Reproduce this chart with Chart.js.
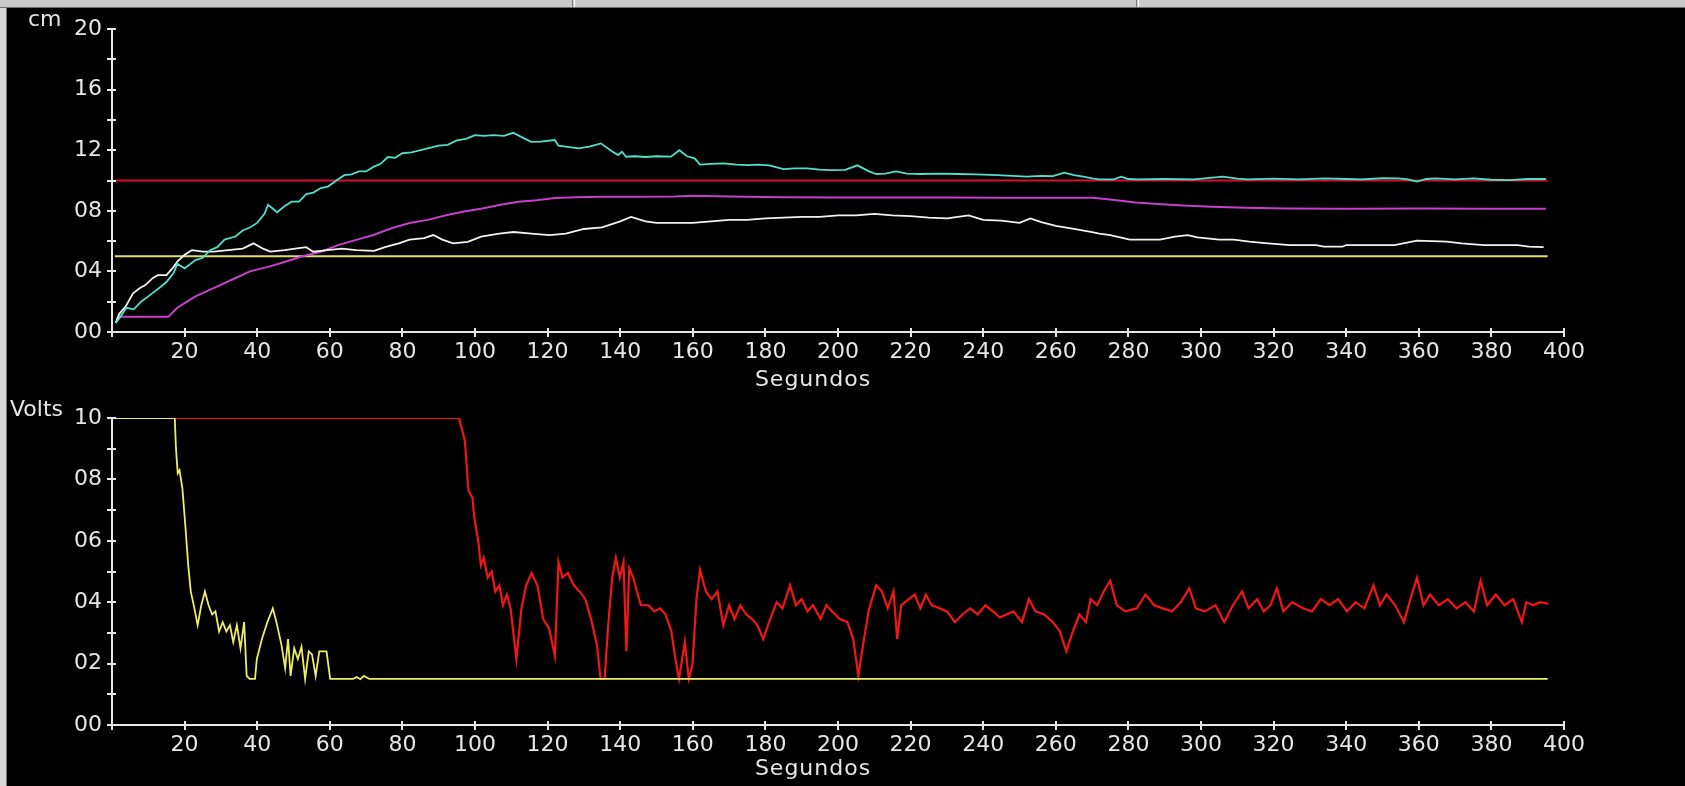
<!DOCTYPE html>
<html lang="pt-BR">
<head>
<meta charset="UTF-8">
<title>Níveis e tensões</title>
<script src="https://cdn.jsdelivr.net/npm/chart.js"></script>
<style>
    body { margin: 0; background: #000; width: 1685px; height: 786px; overflow: hidden; position: relative; font-family: "DejaVu Sans", sans-serif; }
    canvas { position: absolute; left: 0; }
    #grafNivel { top: 0; }
    #grafTensao { top: 390px; }
    .barra { position: absolute; left: 0; top: 0; width: 1685px; height: 7px; background: #c9c9c9; border-bottom: 1px solid #6e6e6e; z-index: 2; }
    .sep { position: absolute; top: 0; width: 1px; height: 7px; border-left: 1px solid #7a7a7a; border-right: 1px solid #fff; }
    .borda { position: absolute; left: 0; top: 8px; width: 6px; height: 778px; background: #d9d9d9; border-right: 1px solid #777; z-index: 2; }
    .rotulo { position: absolute; color: #e6e6e6; font-size: 22px; line-height: 22px; white-space: nowrap; }
    .segundos { transform: translateX(-50%); letter-spacing: 1px; }
</style>
</head>
<body>
<div class="barra"><div class="sep" style="left:572px"></div><div class="sep" style="left:1136px"></div></div>
<div class="borda"></div>

<canvas id="grafNivel" width="1685" height="390"></canvas>
<canvas id="grafTensao" width="1685" height="396"></canvas>

<div class="rotulo" style="left:28px; top:8px">cm</div>
<div class="rotulo segundos" style="left:813px; top:368px">Segundos</div>
<div class="rotulo" style="left:10px; top:398px">Volts</div>
<div class="rotulo segundos" style="left:813px; top:757px">Segundos</div>

<script>
// tempo (s) nas marcas do eixo horizontal
const marcasTempo = [20, 40, 60, 80, 100, 120, 140, 160, 180, 200, 220, 240, 260, 280, 300, 320, 340, 360, 380, 400];
const rotulosNivel = ['00', '04', '08', '12', '16', '20'];
const rotulosTensao = ['00', '02', '04', '06', '08', '10'];

// referências de nível (cm)
const referenciaAlta = [[0.8, 10], [395.5, 10]];
const referenciaBaixa = [[0.8, 5], [395.5, 5]];

// nível tanque 1 (cm) - [tempo, valor]
const nivel1 = [
    [1, 0.6], [2, 0.9], [4, 1.6], [6, 1.5], [8, 2.0], [10, 2.35], [13, 2.9], [15, 3.3], [17, 3.9], [18, 4.5],
    [20, 4.2], [23, 4.75], [25, 4.9], [27, 5.4], [29, 5.6], [31, 6.1], [34, 6.3], [36, 6.7], [38, 6.9], [40, 7.2],
    [42, 7.8], [43, 8.4], [45.5, 7.9], [47.5, 8.3], [49.5, 8.6], [51.5, 8.6], [53.5, 9.1], [55.5, 9.2], [57.5, 9.5], [59.5, 9.6],
    [61.5, 9.95], [64, 10.35], [66, 10.4], [68, 10.6], [70, 10.6], [72, 10.9], [74, 11.1], [76, 11.55], [78, 11.5], [80, 11.8],
    [82.5, 11.85], [85, 12.0], [87.5, 12.15], [90, 12.3], [92.5, 12.35], [95, 12.65], [97.5, 12.75], [100, 13.0], [102.5, 12.95], [105, 13.0],
    [108, 12.95], [110.5, 13.15], [113, 12.85], [115.5, 12.55], [118, 12.56], [122, 12.67], [123, 12.3], [126, 12.2], [128.5, 12.12], [131.5, 12.23],
    [134.7, 12.45], [137.3, 12.0], [139.4, 11.68], [140.5, 11.9], [141.6, 11.57], [144, 11.6], [147, 11.55], [150, 11.6], [154, 11.57], [156.3, 12.0],
    [158.4, 11.6], [160.5, 11.46], [162, 11.05], [165, 11.1], [168.5, 11.13], [172, 11.05], [175, 11.02], [178, 11.05], [181, 11.0], [185, 10.75],
    [188, 10.8], [191.5, 10.8], [195, 10.72], [198, 10.69], [202, 10.7], [205.4, 11.0], [208.5, 10.6], [210.6, 10.43], [213, 10.45], [216, 10.6],
    [219, 10.45], [223, 10.43], [228, 10.45], [233, 10.43], [238, 10.4], [244, 10.36], [248, 10.3], [252, 10.25], [256, 10.3], [259, 10.28],
    [262.3, 10.52], [265, 10.35], [267.6, 10.25], [270, 10.14], [272, 10.08], [276, 10.07], [278, 10.25], [280, 10.1], [282.4, 10.08], [290, 10.1],
    [298, 10.08], [306, 10.25], [310, 10.12], [313, 10.08], [320, 10.12], [327, 10.08], [334, 10.14], [340, 10.1], [344, 10.08], [350, 10.15],
    [354.4, 10.14], [357, 10.08], [359.5, 9.93], [362, 10.1], [364.6, 10.14], [370, 10.08], [375, 10.14], [380, 10.05], [385, 10.03], [390, 10.1],
    [395, 10.1]
];

// nível tanque 2 (cm)
const nivel2 = [
    [1, 0.6], [2, 1.0], [15.5, 1.0], [18, 1.6], [20, 1.9], [23, 2.35], [28, 2.9], [33, 3.45], [38, 4.0], [43, 4.3],
    [48, 4.65], [52.5, 5.0], [57.5, 5.3], [62.5, 5.75], [67.5, 6.1], [72, 6.4], [77, 6.85], [82, 7.2], [87, 7.4], [92, 7.7],
    [97, 7.95], [102, 8.15], [107, 8.4], [112, 8.6], [117, 8.7], [122, 8.85], [128, 8.9], [135, 8.92], [145, 8.92], [155, 8.95],
    [160, 9.0], [170, 8.95], [185, 8.9], [200, 8.88], [215, 8.88], [230, 8.87], [245, 8.86], [260, 8.86], [270, 8.86], [275, 8.75],
    [282, 8.55], [288, 8.45], [295, 8.35], [303, 8.27], [312, 8.2], [324, 8.16], [340, 8.14], [360, 8.15], [380, 8.13], [395, 8.14]
];

// nível tanque 3 (cm)
const nivel3 = [
    [1, 0.6], [2, 1.2], [3.8, 1.7], [5.8, 2.55], [7.7, 2.9], [9.2, 3.1], [11.2, 3.55], [12.6, 3.75], [15, 3.75], [17, 4.3],
    [18, 4.65], [20, 5.1], [22, 5.4], [25, 5.3], [28, 5.3], [32, 5.4], [36, 5.5], [39, 5.85], [41.6, 5.5], [43.6, 5.3],
    [47.6, 5.4], [50.5, 5.5], [53.5, 5.6], [55.4, 5.3], [59.4, 5.4], [63.3, 5.5], [67.3, 5.4], [72.2, 5.35], [75.2, 5.6], [79, 5.85],
    [82, 6.1], [86, 6.2], [88.5, 6.4], [91, 6.1], [94, 5.85], [98, 5.95], [101.7, 6.3], [106.7, 6.5], [110.6, 6.6], [115.5, 6.5],
    [120.5, 6.4], [125, 6.5], [130, 6.8], [135, 6.9], [140, 7.3], [143, 7.6], [147, 7.3], [150, 7.2], [155, 7.2], [160, 7.2],
    [165, 7.3], [170, 7.4], [175, 7.4], [180, 7.5], [185, 7.55], [190, 7.6], [195, 7.6], [200, 7.7], [205, 7.7], [210, 7.8],
    [215, 7.7], [220, 7.65], [225, 7.55], [230, 7.5], [236, 7.7], [240, 7.4], [245, 7.35], [250, 7.2], [253, 7.5], [256, 7.25],
    [260, 7.0], [265, 6.8], [270, 6.6], [272, 6.5], [275, 6.4], [280.4, 6.1], [288.7, 6.1], [292.8, 6.3], [296.4, 6.4], [299, 6.25],
    [305, 6.1], [309, 6.1], [313.3, 5.96], [318.4, 5.85], [324.5, 5.74], [331.7, 5.74], [333.8, 5.63], [339, 5.63], [340, 5.74], [353.3, 5.74],
    [359.5, 6.03], [367.7, 5.96], [371.8, 5.85], [378, 5.74], [387.2, 5.74], [390.3, 5.63], [394.4, 5.6]
];

// tensão da bomba 1 (V)
const tensaoBomba1 = [
    [0.8, 10], [95.6, 10], [97.2, 9.27], [98.2, 7.63], [99.3, 7.4], [99.8, 6.75], [100.9, 6.0], [101.6, 5.2], [102.4, 5.45], [103.5, 4.8],
    [104.6, 5.0], [105.6, 4.35], [106.7, 4.55], [107.7, 3.9], [108.8, 4.25], [109.8, 3.8], [111.4, 2.15], [112.8, 3.8], [114.1, 4.55], [115.6, 4.95],
    [117.2, 4.55], [118.8, 3.45], [120.4, 3.15], [122, 2.25], [123, 5.3], [124.1, 4.8], [125.6, 4.95], [127.2, 4.55], [128.8, 4.35], [130.4, 4.1],
    [132, 3.45], [133.6, 2.6], [134.6, 1.5], [135.7, 1.5], [136.7, 3.25], [137.8, 4.8], [138.8, 5.45], [139.9, 4.8], [140.9, 5.3], [141.7, 2.4],
    [142.5, 5.1], [143.6, 4.8], [144.6, 4.35], [145.7, 3.9], [147.8, 3.9], [149.4, 3.7], [151, 3.8], [152.5, 3.6], [154.1, 3.05], [155.2, 2.15],
    [156.2, 1.5], [157.8, 2.7], [158.9, 1.5], [159.9, 1.95], [161, 4.1], [162, 5.05], [163.6, 4.35], [165.2, 4.1], [166.8, 4.35], [168.4, 3.25],
    [170, 3.9], [171.5, 3.45], [173.1, 3.9], [174.7, 3.6], [176.3, 3.45], [177.8, 3.25], [179.4, 2.8], [181, 3.35], [183.1, 4.0], [184.7, 3.8],
    [186.8, 4.55], [188.4, 3.9], [190, 4.1], [191.6, 3.7], [193.1, 3.9], [195.2, 3.45], [196.8, 3.9], [198.4, 3.7], [200.5, 3.45], [202.6, 3.35],
    [204.2, 2.8], [205.6, 1.6], [206.9, 2.6], [208.4, 3.7], [210.5, 4.55], [212.1, 4.35], [213.7, 3.8], [215.3, 4.35], [216.3, 2.8], [217.4, 3.9],
    [219.5, 4.1], [221.1, 4.25], [222.7, 3.8], [224.2, 4.25], [225.8, 3.9], [228, 3.8], [230, 3.7], [232.2, 3.35], [234.3, 3.6], [236.4, 3.8],
    [238.5, 3.6], [240.6, 3.9], [242.7, 3.7], [244.6, 3.5], [248.3, 3.7], [250.7, 3.35], [252.6, 4.1], [254.4, 3.7], [256.8, 3.6], [259.2, 3.35],
    [261.1, 3.05], [262.9, 2.4], [264.7, 3.05], [266.5, 3.6], [268.3, 3.35], [269.6, 4.1], [271.4, 3.9], [273.2, 4.35], [275, 4.7], [276.8, 3.9],
    [279.2, 3.7], [282.3, 3.8], [284.7, 4.25], [287.1, 3.9], [289.5, 3.8], [292, 3.7], [294.4, 4.0], [296.8, 4.45], [298.6, 3.8], [301, 3.7],
    [304, 3.9], [306.4, 3.35], [308.8, 3.9], [311.3, 4.35], [313.1, 3.8], [315.5, 4.1], [317.3, 3.7], [319.1, 3.9], [320.9, 4.45], [322.7, 3.7],
    [325.1, 4.0], [328.1, 3.8], [330.6, 3.7], [333, 4.1], [335.4, 3.9], [337.8, 4.1], [340.2, 3.7], [342.6, 4.0], [345, 3.8], [347.5, 4.55],
    [349.3, 3.9], [351.1, 4.25], [353.5, 3.9], [355.9, 3.35], [357.7, 4.1], [359.5, 4.8], [361.3, 3.9], [363.1, 4.25], [365.5, 3.9], [368, 4.1],
    [370.4, 3.8], [372.8, 4.0], [375.2, 3.7], [377, 4.7], [378.8, 3.9], [381.2, 4.25], [383.6, 3.9], [386, 4.1], [388.4, 3.35], [389.6, 4.0],
    [391.5, 3.9], [393.3, 4.0], [395.7, 3.95]
];

// tensão da bomba 2 (V)
const tensaoBomba2 = [
    [0.8, 10], [17.3, 10], [17.6, 9.05], [18.1, 8.2], [18.6, 8.3], [19.4, 7.7], [20.2, 6.5], [21, 5.2], [21.7, 4.35], [22.7, 3.8],
    [23.6, 3.25], [24.6, 3.9], [25.6, 4.35], [26.6, 3.9], [27.6, 3.6], [28.5, 3.7], [29.5, 3.05], [30.5, 3.35], [31.5, 3.05], [32.5, 3.25],
    [33.4, 2.7], [34.4, 3.25], [35.4, 2.5], [36.4, 3.35], [37.1, 1.6], [37.9, 1.5], [39.4, 1.5], [39.9, 2.15], [41.3, 2.8], [42.8, 3.35],
    [44.3, 3.8], [45.3, 3.35], [46.7, 2.6], [47.7, 1.85], [48.5, 2.8], [49.2, 1.6], [50.2, 2.5], [51.2, 2.15], [52.2, 2.55], [53.2, 1.5],
    [54.2, 2.4], [55.1, 2.3], [56.1, 1.6], [57.1, 2.4], [59.1, 2.4], [60.1, 1.5], [66.4, 1.5], [67.4, 1.56], [68.4, 1.49], [69.4, 1.6],
    [70.9, 1.5], [395.5, 1.5]
];

const corEixo = '#e6e6e6';
const fonte = { family: 'DejaVu Sans', size: 22 };

const pontos = serie => serie.map(([t, v]) => ({ x: t, y: v }));

function linha(serie, cor, ordem, largura) {
    return {
        data: pontos(serie),
        borderColor: cor,
        borderWidth: largura || 2,
        pointRadius: 0,
        tension: 0,
        order: ordem
    };
}

// metade interna das marcas dos eixos (o Chart.js só desenha a parte externa)
const marcasInternas = {
    id: 'marcasInternas',
    afterDraw(chart) {
        const { ctx, chartArea, scales } = chart;
        ctx.save();
        ctx.strokeStyle = corEixo;
        ctx.lineWidth = 2;
        ctx.beginPath();
        scales.x.ticks.forEach(t => {
            const px = Math.round(scales.x.getPixelForValue(t.value));
            ctx.moveTo(px, chartArea.bottom);
            ctx.lineTo(px, chartArea.bottom - 4);
        });
        scales.y.ticks.forEach(t => {
            const py = Math.round(scales.y.getPixelForValue(t.value));
            ctx.moveTo(chartArea.left, py);
            ctx.lineTo(chartArea.left + 4, py);
        });
        ctx.stroke();
        ctx.restore();
    }
};

function eixos(yMax, yPasso, rotulos, passoRotulo, alturaX) {
    const grade = { drawOnChartArea: false, drawTicks: true, tickLength: 5, color: corEixo, lineWidth: 2 };
    const borda = { display: true, color: corEixo, width: 2 };
    return {
        x: {
            type: 'linear', min: 0, max: 400,
            grid: grade, border: borda,
            ticks: {
                stepSize: 20, autoSkip: false, maxRotation: 0, padding: 2,
                color: corEixo, font: fonte,
                callback: v => marcasTempo.includes(v) ? String(v) : ''
            },
            afterFit: s => { s.height = alturaX; }
        },
        y: {
            min: 0, max: yMax,
            grid: grade, border: borda,
            ticks: {
                stepSize: yPasso, autoSkip: false, padding: 5,
                color: corEixo, font: fonte,
                callback: v => v % passoRotulo === 0 ? rotulos[v / passoRotulo] : ''
            },
            afterFit: s => { s.width = 112; }
        }
    };
}

function opcoes(topo, yMax, yPasso, rotulos, passoRotulo, alturaX) {
    return {
        responsive: false,
        animation: false,
        events: [],
        layout: { padding: { top: topo, right: 121, left: 0, bottom: 0 } },
        plugins: { legend: { display: false }, tooltip: { enabled: false } },
        scales: eixos(yMax, yPasso, rotulos, passoRotulo, alturaX)
    };
}

new Chart(document.getElementById('grafNivel'), {
    type: 'line',
    data: {
        datasets: [
            linha(nivel1, '#4fe0cc', 0, 1.8),
            linha(nivel3, '#f2f2f2', 1, 1.8),
            linha(nivel2, '#c640c8', 2, 2),
            linha(referenciaAlta, '#d8102e', 3),
            linha(referenciaBaixa, '#dede68', 4)
        ]
    },
    options: opcoes(29, 20, 2, rotulosNivel, 4, 58),
    plugins: [marcasInternas]
});

new Chart(document.getElementById('grafTensao'), {
    type: 'line',
    data: {
        datasets: [
            linha(tensaoBomba2, '#ecec6a', 0, 1.8),
            linha(tensaoBomba1, '#f21616', 1, 2.2)
        ]
    },
    options: opcoes(28, 10, 1, rotulosTensao, 2, 61),
    plugins: [marcasInternas]
});
</script>
</body>
</html>
